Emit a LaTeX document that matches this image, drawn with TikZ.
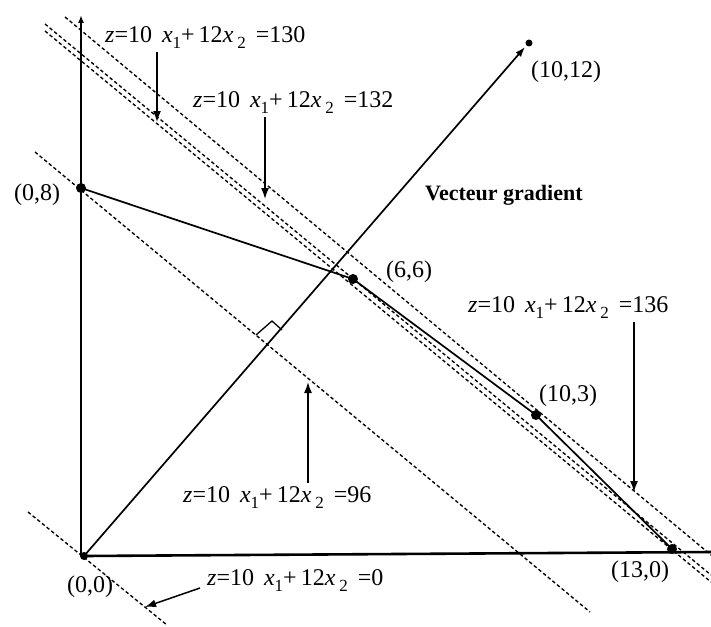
\documentclass[tikz,border=0pt]{standalone}
\usepackage{fontspec}
\setmainfont{Liberation Serif}
\usetikzlibrary{arrows.meta}
\newcommand{\lowsub}[1]{\raisebox{-6pt}{\fontsize{17}{17}\selectfont #1}}
\newcommand{\zform}[1]{\textit{z}=10\, \textit{x}\lowsub{1}+\,12\textit{x}\,\lowsub{2} \,=#1}
\tikzset{
  zline/.style={line width=1.35pt, dash pattern=on 3.5pt off 2.5pt},
  axisline/.style={line width=2.2pt},
  edge/.style={line width=1.7pt},
  dotmark/.style={circle, fill=black, inner sep=0pt, minimum size=10pt},
  lbl/.style={inner sep=0pt, font=\fontsize{24}{28}\selectfont},
  ptr/.style={line width=1.5pt, -{Latex[length=11pt,width=8pt]}},
}
\begin{document}
\begin{tikzpicture}[x=1pt,y=-1pt]
\useasboundingbox[fill=white] (0,0) rectangle (711,626);
% points
\coordinate (O) at (84,556);
\coordinate (Xend) at (711,552);
\coordinate (Ytop) at (81,15);
\coordinate (Ybot) at (81,556);
\node[dotmark] (P08) at (81,188) {};
\node[dotmark] (P66) at (353,279) {};
\node[dotmark] (P103) at (536,415) {};
\node[dotmark] (P130) at (672,549) {};
\node[dotmark, minimum size=7pt] (P1012) at (529,43) {};
\node[dotmark, minimum size=8pt] (P00) at (84,556) {};
\coordinate (G) at (525,47);
% dashed objective lines
\coordinate (A1) at (65,17);   \coordinate (A2) at (711,555);
\coordinate (B1) at (45,24);   \coordinate (B2) at (711,575);
\coordinate (C1) at (45,31);   \coordinate (C2) at (711,582);
\coordinate (D1) at (35,152);  \coordinate (D2) at (590,612);
\coordinate (E1) at (28,512);  \coordinate (E2) at (167,625);
\draw[zline] (A1) -- (A2);
\draw[zline] (B1) -- (B2);
\draw[zline] (C1) -- (C2);
\draw[zline] (D1) -- (D2);
\draw[zline] (E1) -- (E2);
% axes
\draw[axisline, -{Latex[length=8pt,width=6pt]}] (Ybot) -- (Ytop);
\draw[axisline, line width=2.6pt] (O) -- (Xend);
% feasible boundary
\draw[edge] (P08.center) -- (P66.center) -- (P103.center) -- (P130.center);
% gradient vector
\draw[line width=1.7pt, -{Latex[length=10pt,width=7pt]}] (O) -- (G);
% right angle mark
\coordinate (R1) at (256,335); \coordinate (R2) at (272,321); \coordinate (R3) at (282,330);
\draw[line width=1.3pt] (R1) -- (R2) -- (R3);
% labels
\node[lbl, anchor=base west] (L130) at (105,42) {\zform{130}};
\node[lbl, anchor=base west] (L132) at (193,107) {\zform{132}};
\node[lbl, anchor=base west] (L136) at (468,312) {\zform{136}};
\node[lbl, anchor=base west] (L96) at (183,502) {\zform{96}};
\node[lbl, anchor=base west] (L0) at (207,585) {\zform{0}};
\node[inner sep=0pt, anchor=base west, font=\fontsize{22}{26}\selectfont\bfseries] (VG) at (425,200) {Vecteur gradient};
\node[lbl] (T1012) at (566,72) {(10,12)};
\node[lbl] (T08) at (37,195) {(0,8)};
\node[lbl] (T66) at (409,272) {(6,6)};
\node[lbl] (T103) at (568,396) {(10,3)};
\node[lbl] (T00) at (90,587) {(0,0)};
\node[lbl] (T130) at (640,572) {(13,0)};
% pointer arrows
\coordinate (s130) at (157,52);  \coordinate (t130) at (157,122);
\coordinate (s132) at (265,117); \coordinate (t132) at (265,199);
\coordinate (s136) at (634,322); \coordinate (t136) at (634,492);
\coordinate (s96) at (308,483);  \coordinate (t96) at (308,382);
\coordinate (s0) at (200,588);   \coordinate (t0) at (145,607);
\draw[ptr] (s130) -- (t130);
\draw[ptr] (s132) -- (t132);
\draw[ptr] (s136) -- (t136);
\draw[ptr] (s96) -- (t96);
\draw[ptr] (s0) -- (t0);
\end{tikzpicture}
\end{document}
